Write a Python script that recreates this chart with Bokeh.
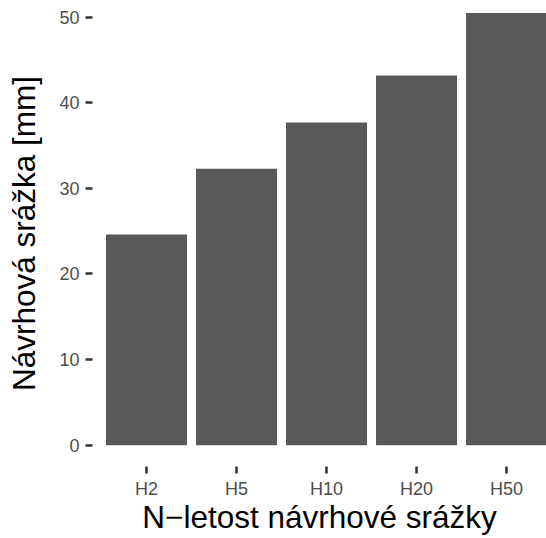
from bokeh.plotting import figure
from bokeh.models import Range1d, FixedTicker, ColumnDataSource
from bokeh.embed import file_html
from bokeh.resources import INLINE

categories = ["H2", "H5", "H10", "H20", "H50"]
values = [24.6, 32.3, 37.7, 43.2, 50.5]
y_ticks = [0, 10, 20, 30, 40, 50]
x_title = "N\u2212letost návrhové srážky"
y_title = "Návrhová srážka [mm]"

positions = list(range(1, len(categories) + 1))
src = ColumnDataSource(dict(x=positions, top=values, label=categories))

p = figure(width=546, height=538, output_backend="svg", toolbar_location=None,
           x_range=Range1d(0.4, 5.444), y_range=Range1d(-2.49, 51.95),
           min_border_left=92, min_border_right=0, min_border_top=0,
           min_border_bottom=72)

p.vbar(x="x", top="top", bottom=0, width=0.9, source=src,
       fill_color="#595959", line_color=None)

p.outline_line_color = None
p.xgrid.visible = False
p.ygrid.visible = False
p.background_fill_color = "white"
p.border_fill_color = "white"

font = "Liberation Sans"
for ax in (p.xaxis[0], p.yaxis[0]):
    ax.axis_line_color = None
    ax.minor_tick_line_color = None
    ax.major_tick_in = 0
    ax.major_tick_out = 7
    ax.major_tick_line_color = "#333333"
    ax.major_tick_line_width = 2.5
    ax.major_label_text_font = font
    ax.major_label_text_font_size = "18px"
    ax.major_label_text_color = "#4d4d4d"
    ax.axis_label_text_font = font
    ax.axis_label_text_font_size = "31.5px"
    ax.axis_label_text_font_style = "normal"
    ax.axis_label_text_color = "black"

p.xaxis.ticker = FixedTicker(ticks=positions)
p.xaxis.major_label_overrides = {pos: lab for pos, lab in zip(positions, categories)}
p.xaxis.major_label_standoff = 5
p.xaxis.axis_label = x_title
p.xaxis.axis_label_standoff = -3

p.yaxis.ticker = FixedTicker(ticks=y_ticks)
p.yaxis.major_label_standoff = 6
p.yaxis.axis_label = y_title
p.yaxis.axis_label_standoff = 14

open("out.html", "w").write(file_html(p, INLINE))
